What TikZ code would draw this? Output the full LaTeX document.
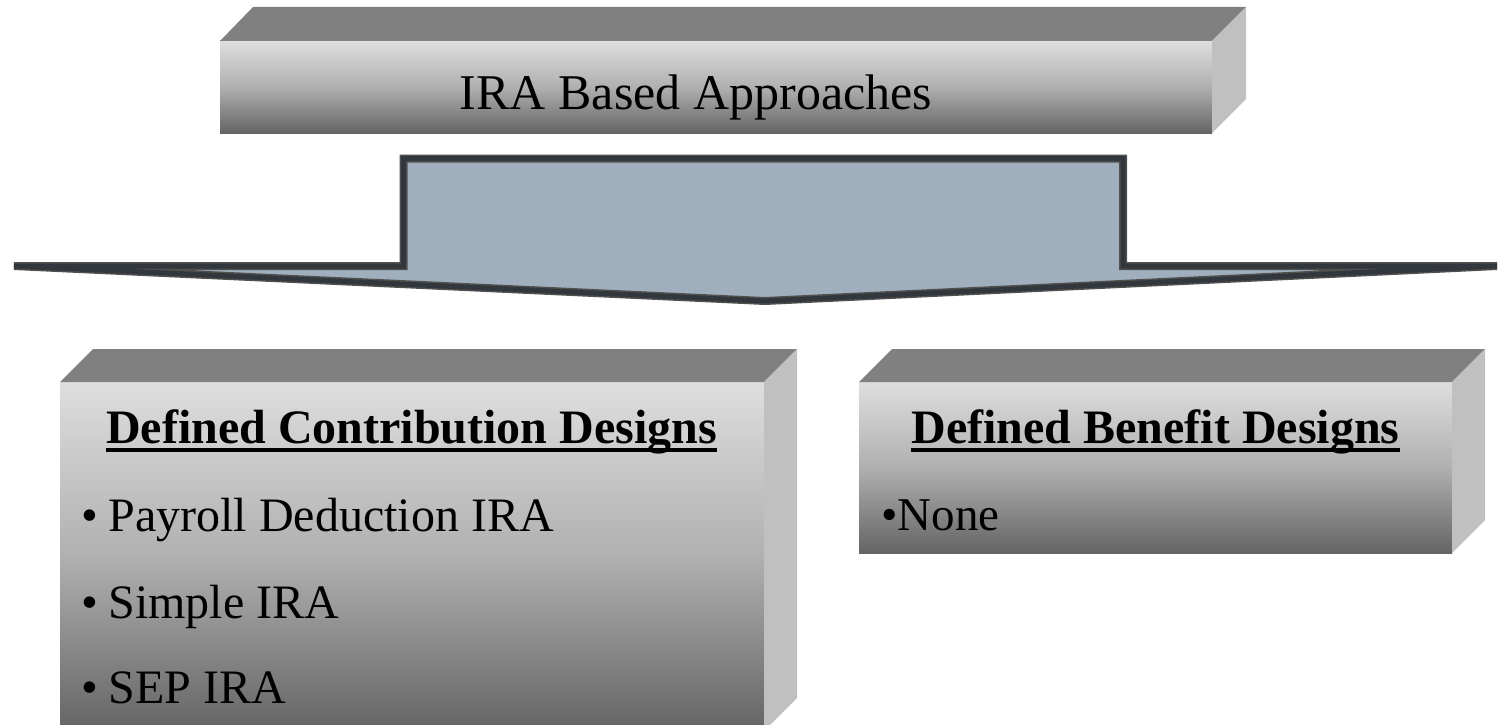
\documentclass[tikz,border=0pt]{standalone}
\usepackage{fontspec}
\setmainfont{Liberation Serif}
\usetikzlibrary{calc}
\definecolor{frontTop}{HTML}{DEDEDE}
\definecolor{frontMid}{HTML}{B0B0B0}
\definecolor{frontBot}{HTML}{646464}
\definecolor{lidGray}{HTML}{808080}
\definecolor{sideGray}{HTML}{C0C0C0}
\definecolor{arrowFill}{HTML}{A0AFBD}
\definecolor{arrowEdge}{HTML}{31373C}
\definecolor{arrowRim}{HTML}{505050}
\begin{document}
\begin{tikzpicture}[x=1pt,y=-1pt,
  frontface/.style={inner sep=0pt, outer sep=0pt, anchor=north west,
    top color=frontTop, bottom color=frontBot, middle color=frontMid},
  lidface/.style={fill=lidGray},
  sideface/.style={fill=sideGray},
  titletext/.style={inner sep=0pt, anchor=base, font=\fontsize{50}{60}\selectfont},
  headtext/.style={inner sep=0pt, anchor=base, font=\fontsize{48}{58}\selectfont\bfseries},
  itemtext/.style={inner sep=0pt, anchor=base west, font=\fontsize{48}{57}\selectfont},
  headrule/.style={line width=3.5pt},
]
\useasboundingbox (0,0) rectangle (1501,725);

% ---- top block: front face, lid and right side ----
\node[frontface, minimum width=992pt, minimum height=92pt] (ira) at (220,41) {};
\fill[lidface] (ira.north west) -- ++(33,-34) -- ($(ira.north east)+(34,-34)$) -- (ira.north east) -- cycle;
\fill[sideface] (ira.north east) -- ++(34,-34) -- ($(ira.south east)+(34,-34)$) -- (ira.south east) -- cycle;
\node[titletext] (title) at (696,109) {IRA Based Approaches};

% ---- splitting block arrow ----
\coordinate (sl) at (403.5,158.5);
\coordinate (sr) at (1123,158.5);
\coordinate (br) at (1123,266);
\coordinate (tr) at (1497,266);
\coordinate (tip) at (765,301);
\coordinate (tl) at (14,266);
\coordinate (bl) at (403.5,266);
\filldraw[fill=arrowFill, draw=arrowRim, line width=8pt]
  (sl) -- (sr) -- (br) -- (tr) -- (tip) -- (tl) -- (bl) -- cycle;
\draw[draw=arrowEdge, line width=5pt]
  (sl) -- (sr) -- (br) -- (tr) -- (tip) -- (tl) -- (bl) -- cycle;

% ---- defined contribution block ----
\node[frontface, minimum width=704pt, minimum height=349pt] (dcf) at (60,382) {};
\fill[lidface] (dcf.north west) -- ++(33,-33) -- ($(dcf.north east)+(33,-33)$) -- (dcf.north east) -- cycle;
\fill[sideface] (dcf.north east) -- ++(33,-33) -- ($(dcf.south east)+(33,-33)$) -- (dcf.south east) -- cycle;
\node[headtext] (dcfh) at (411.5,443) {Defined Contribution Designs};
\draw[headrule] ([yshift=-7pt]dcfh.base west) -- ([yshift=-7pt]dcfh.base east);
\node[itemtext] (dc1) at (81,531) {•\hspace{10.5pt}Payroll Deduction IRA};
\node[itemtext] (dc2) at (81,618) {•\hspace{10.5pt}Simple IRA};
\node[itemtext] (dc3) at (81,703) {•\hspace{10.5pt}SEP IRA};

% ---- defined benefit block ----
\node[frontface, minimum width=593pt, minimum height=171pt] (dbf) at (859,382) {};
\fill[lidface] (dbf.north west) -- ++(33,-33) -- ($(dbf.north east)+(33,-33)$) -- (dbf.north east) -- cycle;
\fill[sideface] (dbf.north east) -- ++(33,-33) -- ($(dbf.south east)+(33,-33)$) -- (dbf.south east) -- cycle;
\node[headtext] (dbfh) at (1155.5,443) {Defined Benefit Designs};
\draw[headrule] ([yshift=-7pt]dbfh.base west) -- ([yshift=-7pt]dbfh.base east);
\node[itemtext, font=\fontsize{47}{56}\selectfont] (db1) at (881,530) {•None};
\end{tikzpicture}
\end{document}
